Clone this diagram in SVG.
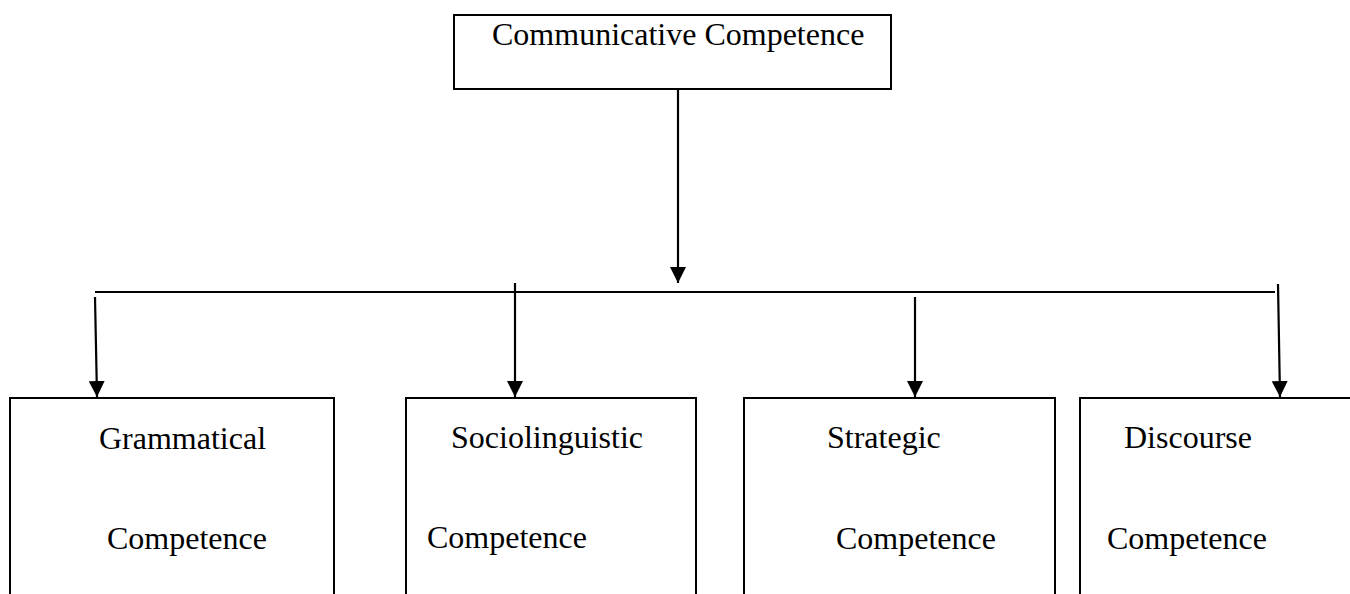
<svg xmlns="http://www.w3.org/2000/svg" width="1350" height="594" viewBox="0 0 1350 594">
  <style>
    .box { fill: #ffffff; stroke: #000000; stroke-width: 2; }
    .lbl { font-family: "Liberation Serif", "Times New Roman", serif; font-size: 32px; fill: #000000; }
    .conn { stroke: #000000; stroke-width: 2.2; fill: none; }
  </style>
  <defs>
    <marker id="arrow" markerUnits="userSpaceOnUse" markerWidth="16" markerHeight="16" refX="16" refY="8" orient="auto">
      <path d="M0,0 L16,8 L0,16 Z" fill="#000000"/>
    </marker>
  </defs>
  <rect width="1350" height="594" fill="#ffffff"/>

  <g id="node-communicative">
    <rect class="box" x="454" y="15" width="437" height="74"/>
    <text class="lbl" x="492" y="45">Communicative Competence</text>
  </g>

  <g id="node-grammatical">
    <rect class="box" x="10" y="398" width="324" height="220"/>
    <text class="lbl" x="99" y="449">Grammatical</text>
    <text class="lbl" x="107" y="549">Competence</text>
  </g>

  <g id="node-sociolinguistic">
    <rect class="box" x="406" y="398" width="290" height="220"/>
    <text class="lbl" x="451" y="448">Sociolinguistic</text>
    <text class="lbl" x="427" y="548">Competence</text>
  </g>

  <g id="node-strategic">
    <rect class="box" x="744" y="398" width="311" height="220"/>
    <text class="lbl" x="827" y="448">Strategic</text>
    <text class="lbl" x="836" y="549">Competence</text>
  </g>

  <g id="node-discourse">
    <rect class="box" x="1080" y="398" width="300" height="220"/>
    <text class="lbl" x="1124" y="448">Discourse</text>
    <text class="lbl" x="1107" y="549">Competence</text>
  </g>

  <g id="connectors">
    <line class="conn" x1="678" y1="89" x2="678" y2="283" marker-end="url(#arrow)"/>
    <line class="conn" x1="95" y1="292" x2="1275" y2="292"/>
    <line class="conn" x1="95" y1="297" x2="97" y2="397" marker-end="url(#arrow)"/>
    <line class="conn" x1="515" y1="283" x2="515" y2="397" marker-end="url(#arrow)"/>
    <line class="conn" x1="915" y1="297" x2="915" y2="397" marker-end="url(#arrow)"/>
    <line class="conn" x1="1278" y1="284" x2="1280" y2="397" marker-end="url(#arrow)"/>
  </g>
</svg>
